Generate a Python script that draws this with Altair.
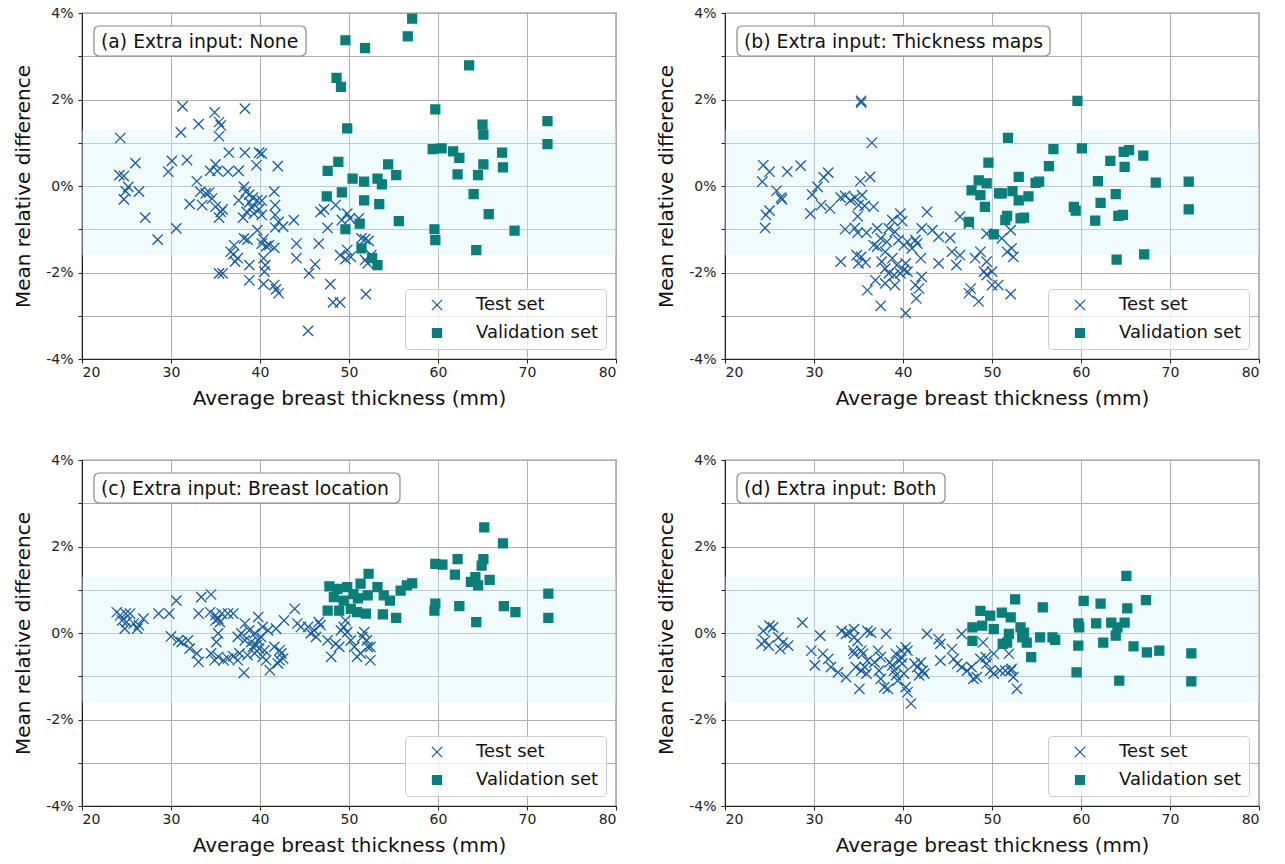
import altair as alt
import pandas as pd

# ---------------- data ----------------
BAND_LOW = -1.6
BAND_HIGH = 1.3

# (a) Extra input: None
a_test_x = [24.3, 31.3, 34.9, 38.3, 35.4, 35.6, 33.1, 31.1, 35.4, 36.5, 38.3, 39.9, 40.2, 26.0, 30.1, 31.8,
            29.7, 35.0, 34.4, 35.2, 36.4, 37.6, 39.6, 42.0, 24.2, 24.7, 25.2, 24.9, 24.7, 26.4, 27.1, 28.5,
            30.6, 32.9, 33.3, 33.9, 34.3, 34.6, 32.1, 33.5, 35.0, 35.6, 35.8, 35.4, 38.2, 38.4, 38.8, 39.2,
            39.7, 40.2, 37.6, 38.8, 39.1, 39.9, 40.2, 39.3, 41.6, 41.7, 41.7, 38.1, 38.5, 43.8, 42.1, 42.6,
            41.7, 39.7, 40.4, 40.2, 41.0, 41.6, 40.7, 38.2, 38.6, 37.1, 36.7, 37.0, 37.5, 37.2, 38.8, 40.4,
            40.6, 40.5, 35.4, 35.8, 38.8, 40.4, 41.6, 41.8, 42.1, 44.1, 44.1, 46.6, 46.2, 45.5, 47.9, 48.2,
            49.0, 45.4, 46.8, 47.2, 47.6, 48.5, 49.2, 49.8, 50.1, 51.4, 51.8, 49.8, 50.2, 49.6, 49.0, 52.2,
            51.8, 52.5, 52.1, 51.9, 51.1]
a_test_y = [1.11, 1.84, 1.70, 1.79, 1.48, 1.40, 1.43, 1.24, 1.15, 0.77, 0.77, 0.77, 0.75, 0.53, 0.58, 0.60,
            0.33, 0.50, 0.35, 0.35, 0.33, 0.35, 0.48, 0.46, 0.25, 0.23, -0.02, -0.12, -0.31, -0.13, -0.73, -1.24,
            -0.98, 0.11, -0.13, -0.17, -0.15, -0.29, -0.42, -0.44, -0.48, -0.60, -0.54, -0.73, -0.02, -0.13, -0.20, -0.27,
            -0.33, -0.34, -0.33, -0.38, -0.50, -0.54, -0.67, -0.64, -0.13, -0.44, -0.67, -0.73, -0.60, -0.79, -0.83, -0.94,
            -0.96, -1.02, -1.23, -1.33, -1.37, -1.43, -1.39, -1.21, -1.24, -1.37, -1.52, -1.58, -1.67, -1.75, -1.83, -1.67,
            -1.83, -1.98, -2.02, -2.02, -2.18, -2.27, -2.29, -2.39, -2.48, -1.33, -1.67, -1.33, -1.81, -2.02, -2.27, -2.69,
            -2.69, -3.35, -0.60, -0.54, -0.97, -0.44, -0.79, -0.64, -0.75, -1.21, -1.23, -1.48, -1.64, -1.69, -1.60, -1.27,
            -1.71, -1.60, -1.79, -2.50, -0.75]
a_val_x = [49.6, 51.8, 48.6, 49.1, 49.8, 47.6, 48.8, 50.4, 51.7, 47.5, 49.2, 51.7, 51.2, 49.6, 51.4,
           57.1, 56.6, 63.5, 59.7, 65.0, 65.1, 72.3, 72.3, 59.4, 60.4, 61.7, 62.4, 67.2, 67.3, 54.4,
           55.3, 62.2, 65.1, 64.5, 53.2, 53.7, 64.0, 53.4, 55.6, 65.7, 59.6, 59.7, 68.6, 64.3, 52.6, 53.2]
a_val_y = [3.37, 3.19, 2.50, 2.29, 1.33, 0.35, 0.56, 0.17, 0.10, -0.24, -0.15, -0.33, -0.87, -1.00, -1.44,
           3.87, 3.46, 2.79, 1.77, 1.42, 1.19, 1.50, 0.97, 0.85, 0.87, 0.80, 0.65, 0.77, 0.43, 0.50,
           0.25, 0.27, 0.50, 0.25, 0.17, 0.04, -0.19, -0.42, -0.81, -0.65, -1.00, -1.25, -1.03, -1.48, -1.67, -1.83]

# (b) Extra input: Thickness maps
b_test_x = [35.3, 35.3, 36.5, 24.3, 25.0, 24.2, 27.0, 28.5, 25.8, 26.3, 26.4, 25.0, 24.6, 24.5, 29.8, 29.6,
            30.4, 31.1, 31.6, 30.8, 31.8, 33.0, 33.5, 34.1, 34.6, 35.4, 35.2, 36.3, 35.0, 35.7, 34.9, 36.7,
            33.5, 34.6, 34.9, 35.9, 33.0, 34.8, 35.3, 35.0, 35.8, 36.0, 37.5, 37.1, 37.5, 38.0, 38.2, 38.4,
            38.8, 39.7, 39.9, 39.1, 39.5, 40.1, 40.5, 41.0, 41.6, 41.4, 42.0, 37.6, 38.0, 38.4, 39.0, 39.7,
            40.1, 40.5, 39.3, 38.8, 40.3, 36.9, 38.0, 39.1, 41.4, 41.8, 41.5, 42.1, 40.3, 37.1, 36.7, 42.7,
            42.1, 43.3, 44.0, 45.3, 45.5, 46.4, 46.0, 44.0, 46.4, 47.4, 48.1, 48.7, 49.4, 49.1, 49.4, 50.0,
            50.7, 47.6, 47.4, 48.5, 49.4, 51.1, 52.1, 51.7, 52.2, 52.4, 50.0, 52.1]
b_test_y = [1.93, 1.97, 1.00, 0.48, 0.33, 0.10, 0.33, 0.47, -0.11, -0.27, -0.31, -0.57, -0.67, -0.97, -0.20, -0.64,
            -0.02, 0.20, 0.31, -0.44, -0.52, -0.27, -0.23, -0.33, -0.27, -0.21, 0.11, 0.21, -0.44, -0.46, -0.70, -0.48,
            -1.00, -0.97, -1.08, -1.08, -1.75, -1.60, -1.64, -1.79, -1.77, -2.41, -2.77, -1.40, -1.21, -1.52, -1.29, -0.98,
            -0.79, -0.64, -0.81, -1.06, -1.25, -1.37, -1.29, -1.44, -1.33, -1.25, -1.67, -1.75, -1.91, -2.02, -2.06, -2.02,
            -1.94, -1.98, -1.83, -1.67, -1.79, -2.18, -2.25, -2.29, -2.29, -2.37, -2.60, -2.10, -2.94, -0.98, -1.37, -0.60,
            -0.98, -1.02, -1.17, -1.20, -1.52, -1.60, -1.83, -1.79, -0.71, -0.87, -1.67, -1.52, -1.75, -1.98, -2.06, -2.29,
            -2.29, -2.37, -2.48, -2.67, -1.10, -1.21, -1.02, -1.52, -1.44, -1.64, -1.98, -2.50]
b_val_x = [49.6, 48.5, 49.4, 47.7, 48.7, 49.2, 47.4, 50.2, 50.8, 59.6, 51.8, 56.9, 60.1, 64.8, 65.4, 67.0,
           63.3, 64.9, 56.4, 53.0, 55.3, 54.9, 61.9, 68.4, 72.1, 51.1, 52.3, 53.0, 54.1, 63.9, 62.2, 59.2,
           59.4, 72.1, 51.7, 51.5, 53.6, 53.2, 61.6, 64.2, 64.7, 64.0, 67.1]
b_val_y = [0.54, 0.13, 0.06, -0.10, -0.21, -0.48, -0.83, -1.12, -0.17, 1.97, 1.11, 0.85, 0.87, 0.79, 0.83, 0.70,
           0.58, 0.44, 0.46, 0.21, 0.10, 0.07, 0.11, 0.08, 0.10, -0.17, -0.12, -0.33, -0.24, -0.19, -0.39, -0.48,
           -0.57, -0.54, -0.69, -0.79, -0.73, -0.75, -0.80, -0.69, -0.67, -1.70, -1.58]

# (c) Extra input: Breast location
c_test_x = [23.9, 24.3, 24.9, 24.5, 25.0, 24.8, 25.4, 25.8, 26.4, 26.2, 26.9, 28.6, 29.8, 30.6, 30.0, 30.8,
            31.2, 31.9, 32.1, 32.9, 33.1, 33.4, 34.5, 33.1, 34.4, 35.0, 35.3, 35.7, 36.4, 37.0, 35.5, 35.0,
            35.3, 35.1, 34.5, 35.3, 35.9, 34.9, 36.4, 37.0, 37.5, 37.7, 38.3, 38.8, 39.4, 39.8, 40.3, 40.9,
            40.1, 39.8, 39.0, 39.2, 39.6, 39.9, 40.5, 40.3, 40.7, 39.4, 38.6, 38.3, 37.5, 37.9, 38.2, 41.1,
            41.6, 42.2, 42.4, 42.6, 42.2, 42.0, 41.8, 42.7, 43.9, 44.2, 44.6, 45.4, 45.7, 46.1, 46.3, 46.6,
            46.8, 47.6, 48.0, 48.5, 48.9, 49.4, 49.8, 50.2, 50.6, 50.9, 51.5, 52.1, 52.0, 49.6, 49.1, 51.7,
            52.4, 51.3, 52.4]
c_test_y = [0.48, 0.41, 0.45, 0.29, 0.25, 0.10, 0.45, 0.22, 0.18, 0.10, 0.33, 0.45, 0.45, 0.75, -0.08, -0.17,
            -0.21, -0.17, -0.36, -0.47, -0.67, 0.83, 0.89, 0.45, 0.48, 0.41, 0.33, 0.45, 0.45, 0.45, 0.25, 0.29,
            -0.01, -0.21, -0.47, -0.55, -0.63, -0.63, -0.59, -0.54, -0.63, -0.47, 0.22, 0.06, -0.01, 0.37, 0.14, 0.06,
            -0.09, -0.17, -0.21, -0.32, -0.28, -0.36, -0.40, -0.55, -0.63, -0.47, -0.51, -0.17, -0.09, -0.01, -0.92, -0.86,
            -0.32, -0.40, -0.47, -0.59, -0.63, -0.70, 0.10, 0.29, 0.56, 0.22, 0.14, 0.14, -0.01, 0.06, -0.09, 0.25,
            0.18, -0.17, -0.55, -0.25, -0.32, 0.14, 0.02, -0.17, -0.32, -0.55, -0.09, -0.32, -0.17, 0.29, 0.06, 0.02,
            -0.63, -0.47, -0.32]
c_val_x = [47.8, 48.7, 49.8, 51.3, 52.2, 48.3, 49.4, 50.2, 47.6, 48.9, 50.9, 51.9, 65.2, 67.3, 59.7, 60.5,
           62.2, 65.1, 64.9, 61.9, 63.7, 64.2, 65.8, 64.5, 53.2, 53.9, 54.6, 55.8, 56.5, 57.1, 52.1, 53.8,
           55.3, 59.7, 59.6, 62.4, 64.3, 67.4, 68.7, 72.4, 72.4, 50.5, 51.0]
c_val_y = [1.08, 1.02, 1.06, 1.14, 1.37, 0.83, 0.75, 0.56, 0.52, 0.52, 0.48, 0.45, 2.44, 2.07, 1.60, 1.58,
           1.71, 1.71, 1.56, 1.35, 1.18, 1.29, 1.23, 1.10, 1.06, 0.87, 0.75, 0.98, 1.10, 1.15, 0.87, 0.43,
           0.35, 0.68, 0.52, 0.62, 0.25, 0.62, 0.48, 0.91, 0.35, 0.90, 0.80]

# (d) Extra input: Both
d_test_x = [24.3, 25.0, 25.4, 24.5, 24.1, 24.9, 26.0, 26.5, 26.2, 27.1, 28.7, 29.7, 30.1, 30.7, 31.0, 31.6,
            31.9, 32.7, 33.6, 33.1, 33.6, 34.0, 34.5, 34.5, 34.9, 34.4, 34.5, 35.3, 35.5, 36.0, 36.4, 34.7,
            35.3, 35.9, 35.1, 35.7, 36.0, 37.2, 37.5, 36.8, 37.3, 37.5, 37.9, 38.3, 38.1, 38.5, 38.8, 39.0,
            39.2, 39.4, 39.8, 39.8, 39.9, 40.1, 40.3, 40.5, 40.9, 40.5, 40.3, 39.2, 39.6, 41.3, 41.6, 42.0,
            42.2, 41.8, 42.4, 42.7, 44.0, 44.2, 44.2, 45.5, 45.7, 46.1, 46.6, 46.6, 47.2, 47.7, 47.9, 48.3,
            48.7, 49.0, 49.3, 49.4, 49.8, 50.2, 50.9, 50.2, 51.5, 52.1, 52.2, 51.9, 52.4, 52.8]
d_test_y = [0.05, 0.17, 0.13, -0.18, -0.25, -0.29, -0.10, -0.22, -0.37, -0.29, 0.24, -0.41, -0.75, -0.06, -0.48, -0.60,
            -0.79, -0.91, -1.02, 0.05, -0.02, 0.01, 0.09, -0.10, -0.18, -0.41, -0.48, -0.41, -0.48, 0.05, 0.01, -0.79,
            -0.87, -0.94, -1.29, -0.79, -0.64, -0.41, -0.56, -0.68, -0.87, -1.06, -1.25, -1.29, -0.02, -0.68, -0.75, -0.87,
            -0.98, -1.10, -0.56, -0.41, -0.71, -0.94, -1.25, -1.37, -1.63, -0.41, -0.33, -0.48, -0.64, -0.71, -0.79, -0.68,
            -0.87, -0.98, -0.94, -0.02, -0.14, -0.25, -0.64, -0.37, -0.60, -0.71, -0.02, -0.79, -0.87, -0.79, -1.06, -1.02,
            -0.60, -0.22, -0.56, -0.71, -0.87, -0.94, -0.87, -0.48, -0.87, -0.87, -0.83, -0.48, -1.02, -1.29]
d_val_x = [48.7, 49.8, 51.1, 47.8, 48.9, 50.2, 47.8, 51.2, 65.1, 52.6, 55.7, 60.3, 62.2, 67.3, 65.2, 52.1,
           59.7, 59.8, 61.7, 63.4, 64.1, 64.9, 63.9, 51.9, 51.7, 53.2, 53.6, 53.4, 53.9, 55.4, 56.8, 57.1,
           54.4, 59.7, 62.5, 65.9, 67.4, 68.8, 72.4, 59.5, 64.3, 72.4]
d_val_y = [0.51, 0.40, 0.47, 0.13, 0.17, 0.09, -0.18, -0.25, 1.32, 0.78, 0.59, 0.74, 0.68, 0.76, 0.57, 0.36,
           0.22, 0.13, 0.22, 0.24, 0.13, 0.24, -0.06, -0.02, -0.22, 0.13, 0.01, -0.10, -0.22, -0.10, -0.10, -0.16,
           -0.56, -0.29, -0.22, -0.31, -0.45, -0.41, -0.47, -0.91, -1.10, -1.12]

PANELS = [
    ("(a) Extra input: None", a_test_x, a_test_y, a_val_x, a_val_y, 212),
    ("(b) Extra input: Thickness maps", b_test_x, b_test_y, b_val_x, b_val_y, 313),
    ("(c) Extra input: Breast location", c_test_x, c_test_y, c_val_x, c_val_y, 306),
    ("(d) Extra input: Both", d_test_x, d_test_y, d_val_x, d_val_y, 208),
]

X_TICKS = [20, 30, 40, 50, 60, 70, 80]
Y_TICKS = [-4, -3, -2, -1, 0, 1, 2, 3, 4]
SETS = ["Test set", "Validation set"]

# ---------------- style ----------------
FONT = "DejaVu Sans"
TEST_COLOR = "#1b5c9f"
VAL_COLOR = "#0a7e79"
X_PATH = "M-1.15,-1.15L1.15,1.15M-1.15,1.15L1.15,-1.15"
W, H = 534, 346

xscale = alt.Scale(domain=[20, 80], nice=False, zero=False)
yscale = alt.Scale(domain=[-4, 4], nice=False, zero=False)
xaxis = alt.Axis(values=X_TICKS, format="d", title="Average breast thickness (mm)", grid=True)
yaxis = alt.Axis(values=Y_TICKS, title="Mean relative difference", grid=True,
                 labelExpr="datum.value % 2 == 0 ? datum.value + '%' : ''")


def make_panel(label, tx, ty, vx, vy, box_w):
    pts = pd.DataFrame({
        "x": tx + vx,
        "y": ty + vy,
        "set": [SETS[0]] * len(tx) + [SETS[1]] * len(vx),
    })
    band_df = pd.DataFrame({"lo": [BAND_LOW], "hi": [BAND_HIGH], "x0": [20], "x1": [80]})
    band = alt.Chart(band_df).mark_rect(color="#d6f5fb", opacity=0.38).encode(
        x=alt.X("x0:Q", scale=xscale, axis=xaxis),
        x2="x1:Q",
        y=alt.Y("hi:Q", scale=yscale, axis=yaxis),
        y2="lo:Q",
    )
    cscale = alt.Scale(domain=SETS, range=[TEST_COLOR, VAL_COLOR])
    points = alt.Chart(pts).mark_point(filled=True, size=80, strokeWidth=1.3, opacity=1).encode(
        x=alt.X("x:Q", scale=xscale, axis=xaxis),
        y=alt.Y("y:Q", scale=yscale, axis=yaxis),
        color=alt.Color("set:N", scale=cscale, legend=alt.Legend(title=None)),
        stroke=alt.Stroke("set:N", scale=cscale, legend=alt.Legend(title=None)),
        shape=alt.Shape("set:N", scale=alt.Scale(domain=SETS, range=[X_PATH, "square"]),
                        legend=alt.Legend(title=None)),
    )
    lab_df = pd.DataFrame({"label": [label]})
    box = alt.Chart(lab_df).mark_rect(fill="white", stroke="#8a8a8a", strokeWidth=1.2, cornerRadius=5).encode(
        x=alt.value(12), x2=alt.value(12 + box_w), y=alt.value(13), y2=alt.value(43)
    )
    txt = alt.Chart(lab_df).mark_text(align="left", baseline="middle", font=FONT, fontSize=18.8,
                                      color="#111").encode(
        text="label:N", x=alt.value(19), y=alt.value(28.5)
    )
    return alt.layer(band, points, box, txt).properties(width=W, height=H)


charts = [make_panel(*p) for p in PANELS]

row1 = alt.hconcat(charts[0], charts[1], spacing=38).resolve_scale(
    color="independent", stroke="independent", shape="independent")
row2 = alt.hconcat(charts[2], charts[3], spacing=38).resolve_scale(
    color="independent", stroke="independent", shape="independent")
chart = alt.vconcat(row1, row2, spacing=43).resolve_scale(
    color="independent", stroke="independent", shape="independent"
).properties(
    padding={"left": 13, "top": 5, "right": 5, "bottom": 5}
).configure_view(
    stroke="#222", strokeWidth=1.2
).configure_axis(
    domainColor="#222", domainWidth=1, tickColor="#222", tickSize=4, tickWidth=1,
    gridColor="#b0b0b0", gridWidth=1, labelFont=FONT, labelFontSize=14, labelColor="#222",
    titleFont=FONT, titleFontSize=20, titleFontWeight="normal", titleColor="#111", labelPadding=2,
).configure_axisY(
    titlePadding=12, labelPadding=5
).configure_axisX(
    titlePadding=9
).configure_legend(
    orient="bottom-right", offset=10, fillColor="rgba(255,255,255,0.8)", strokeColor="#cccccc",
    cornerRadius=4, padding=7, labelFont=FONT, labelFontSize=18, labelColor="#111",
    symbolSize=80, symbolStrokeWidth=1.3, symbolOffset=16, labelOffset=30, rowPadding=10,
)

chart.save("out.html", embed_options={"renderer": "svg", "actions": False})
